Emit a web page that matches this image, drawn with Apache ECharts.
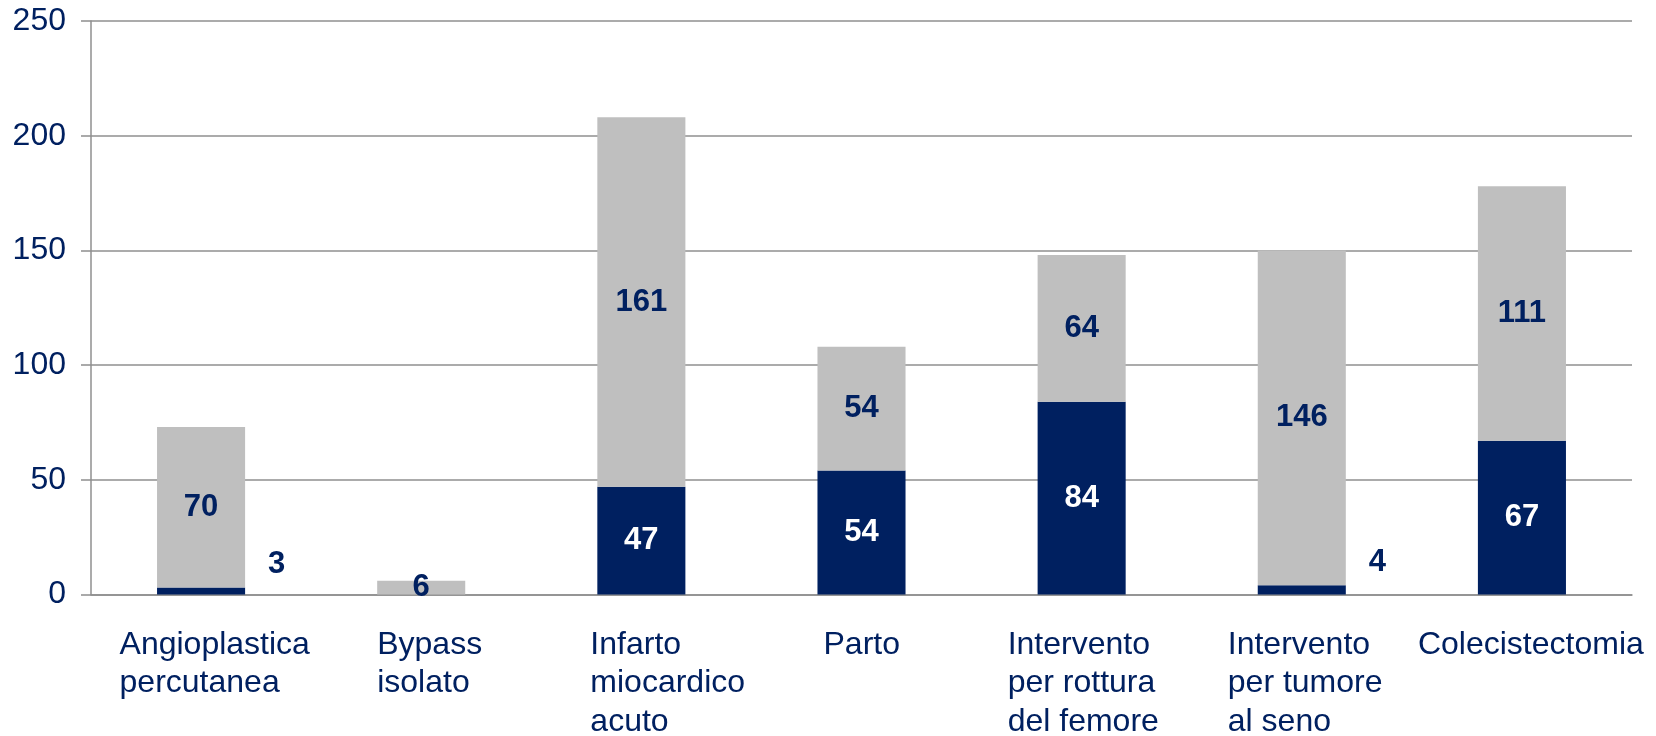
<!DOCTYPE html>
<html>
<head>
<meta charset="utf-8">
<script src="https://cdn.jsdelivr.net/npm/echarts@6/dist/echarts.min.js"></script>
<style>
  html, body { margin: 0; padding: 0; background: #fff; }
  #chart { width: 1656px; height: 736px; }
</style>
</head>
<body>
<div id="chart"></div>
<script>
// categorie
const categories = [
  'Angioplastica\npercutanea',
  'Bypass\nisolato',
  'Infarto\nmiocardico\nacuto',
  'Parto',
  'Intervento\nper rottura\ndel femore',
  'Intervento\nper tumore\nal seno',
  'Colecistectomia'
]
// parte blu (in basso)
const darkValues = [3, 0, 47, 54, 84, 4, 67]
// parte grigia (in alto)
const greyValues = [70, 6, 161, 54, 64, 146, 111]
const yTicks = [0, 50, 100, 150, 200, 250]

const NAVY = '#002060'
const GREY = '#bfbfbf'
const LINE = '#8f8f8f'
const FONT = '"Liberation Sans", Arial, sans-serif'

// larghezza box etichette asse x (testo allineato a sinistra nel box)
const labelBox = [163, 88, 102, 76, 148, 148, 208]

const rich = {}
labelBox.forEach((w, i) => {
  rich['c' + i] = {
    width: w,
    align: 'left',
    fontSize: 32,
    lineHeight: 38.5,
    color: NAVY,
    fontFamily: FONT
  }
})

const darkData = darkValues.map((v) => {
  if (v === 0) return { value: v, label: { show: false } }
  if (v < 10) {
    return {
      value: v,
      label: { position: 'right', color: NAVY, offset: [18, -27] }
    }
  }
  return v
})

const chart = echarts.init(document.getElementById('chart'))

chart.setOption({
  animation: false,
  textStyle: { fontFamily: FONT },
  grid: { left: 91, right: 24, top: 21, bottom: 141.5, outerBoundsMode: 'none', containLabel: false },
  xAxis: {
    type: 'category',
    data: categories,
    axisLine: { lineStyle: { color: LINE, width: 1.5 } },
    axisTick: { show: false },
    axisLabel: {
      interval: 0,
      margin: 31,
      align: 'center',
      verticalAlign: 'top',
      formatter: (val) => {
        const i = categories.indexOf(val)
        return val.split('\n').map((l) => '{c' + i + '|' + l + '}').join('\n')
      },
      rich: rich
    }
  },
  yAxis: {
    type: 'value',
    min: yTicks[0],
    max: yTicks[yTicks.length - 1],
    interval: 50,
    axisLine: { show: true, lineStyle: { color: LINE, width: 1.5 } },
    axisTick: { show: true, length: 10, lineStyle: { color: LINE, width: 1.5 } },
    splitLine: { lineStyle: { color: LINE, width: 1.5 } },
    axisLabel: {
      margin: 25,
      color: NAVY,
      fontSize: 32,
      fontFamily: FONT
    }
  },
  series: [{
    type: 'bar',
    stack: 'tot',
    barWidth: '40%',
    data: darkData,
    itemStyle: { color: NAVY },
    label: {
      show: true,
      position: 'inside',
      color: '#fff',
      fontSize: 31,
      fontWeight: 'bold',
      fontFamily: FONT
    }
  }, {
    type: 'bar',
    stack: 'tot',
    barWidth: '40%',
    data: greyValues,
    itemStyle: { color: GREY },
    label: {
      show: true,
      position: 'inside',
      color: NAVY,
      fontSize: 31,
      fontWeight: 'bold',
      fontFamily: FONT
    }
  }]
})
</script>
</body>
</html>
